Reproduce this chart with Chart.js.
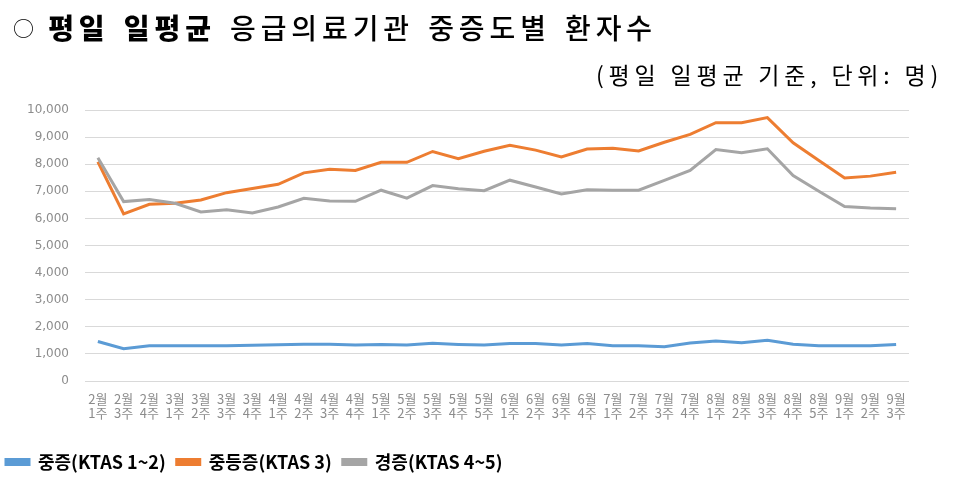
<!DOCTYPE html>
<html>
<head>
<meta charset="utf-8">
<script src="https://cdn.jsdelivr.net/npm/chart.js@4.4.1/dist/chart.umd.min.js"></script>
<style>
  html, body { margin: 0; padding: 0; background: #fff; }
  #wrap { position: relative; width: 965px; height: 488px; overflow: hidden; }
  #title { position: absolute; left: 13px; top: 7px; font-family: "Noto Sans CJK KR", sans-serif; font-size: 28px; color: #000; white-space: nowrap; letter-spacing: 4.9px; word-spacing: 3px; }
  #title .c { font-size: 21px; font-weight: 400; position: relative; top: -3px; letter-spacing: 0px; }
  #title b { font-weight: 900; }
  #title span.n { font-weight: 500; }
  #sub { position: absolute; right: 22px; top: 57px; font-family: "Noto Sans CJK KR", sans-serif; font-size: 23px; color: #000; white-space: nowrap; letter-spacing: 4.8px; }
  canvas { position: absolute; left: 0; top: 0; }
</style>
</head>
<body>
<div id="wrap">
  <canvas id="c" width="965" height="488"></canvas>
  <div id="title"><span class="c">○</span> <b>평일 일평균</b> <span class="n">응급의료기관 중증도별 환자수</span></div>
  <div id="sub">(평일 일평균 기준, 단위: 명)</div>
</div>
<script>
const months = ['2월','2월','2월','3월','3월','3월','3월','4월','4월','4월','4월','5월','5월','5월','5월','5월','6월','6월','6월','6월','7월','7월','7월','7월','8월','8월','8월','8월','8월','9월','9월','9월'];
const weeks  = ['1주','3주','4주','1주','2주','3주','4주','1주','2주','3주','4주','1주','2주','3주','4주','5주','1주','2주','3주','4주','1주','2주','3주','4주','1주','2주','3주','4주','5주','1주','2주','3주'];
const severe   = [1460,1190,1300,1300,1300,1300,1320,1340,1360,1360,1330,1350,1330,1390,1350,1330,1380,1380,1330,1380,1300,1300,1260,1400,1480,1410,1500,1360,1300,1300,1300,1350];
const moderate = [8090,6170,6520,6560,6680,6950,7100,7260,7680,7810,7770,8070,8070,8470,8200,8480,8700,8520,8270,8560,8590,8490,8810,9100,9530,9530,9720,8790,8140,7490,7560,7700];
const mild     = [8240,6620,6700,6560,6240,6320,6200,6420,6740,6640,6630,7040,6750,7210,7090,7020,7410,7160,6900,7060,7040,7040,7400,7770,8540,8420,8570,7580,7000,6440,6380,6360];
const seriesNames = ['중증(KTAS 1~2)','중등증(KTAS 3)','경증(KTAS 4~5)'];
const yTicks = [0,1000,2000,3000,4000,5000,6000,7000,8000,9000,10000];

const labels = months.map((m, i) => [m, weeks[i]]);
const colors = ['#5B9BD5', '#ED7D31', '#A5A5A5'];
const mk = (name, data, color, order) => ({
  label: name, data, borderColor: color, backgroundColor: color, order,
  borderWidth: 3, pointRadius: 0, tension: 0, fill: false
});

const shiftLegend = {
  id: 'shiftLegend',
  afterLayout(chart) {
    if (chart.legend) { chart.legend.left -= 5; chart.legend.right -= 5; }
  }
};

new Chart(document.getElementById('c'), {
  type: 'line',
  data: {
    labels,
    datasets: [
      mk(seriesNames[0], severe, colors[0], 2),
      mk(seriesNames[1], moderate, colors[1], 1),
      mk(seriesNames[2], mild, colors[2], 0)
    ]
  },
  plugins: [shiftLegend],
  options: {
    responsive: false,
    animation: false,
    layout: { padding: { left: 0, right: 56, top: 110, bottom: 7 } },
    plugins: {
      tooltip: { enabled: false },
      legend: {
        position: 'bottom',
        align: 'start',
        labels: {
          boxWidth: 23, boxHeight: 5, padding: 11,
          color: '#000',
          sort: (a, b) => a.datasetIndex - b.datasetIndex,
          font: { family: '"Noto Sans CJK KR", sans-serif', size: 18, weight: 'bold' }
        }
      }
    },
    scales: {
      x: {
        offset: true,
        grid: { display: false },
        border: { display: false },
        ticks: {
          autoSkip: false, maxRotation: 0, minRotation: 0, padding: 3,
          color: '#8c8c8c',
          font: { family: '"Noto Sans CJK KR", sans-serif', size: 13, lineHeight: 1.1 }
        },
        afterFit: (s) => { s.height = 61; }
      },
      y: {
        min: 0, max: 10000,
        afterBuildTicks: (s) => { s.ticks = yTicks.map(v => ({ value: v })); },
        grid: { color: '#d9d9d9', lineWidth: 1, drawTicks: false },
        border: { display: false },
        ticks: {
          padding: 16, color: '#8c8c8c',
          font: { family: '"DejaVu Sans", sans-serif', size: 12 },
          callback: (v) => v.toLocaleString('en-US')
        },
        afterFit: (s) => { s.width = 85; }
      }
    }
  }
});
</script>
</body>
</html>
